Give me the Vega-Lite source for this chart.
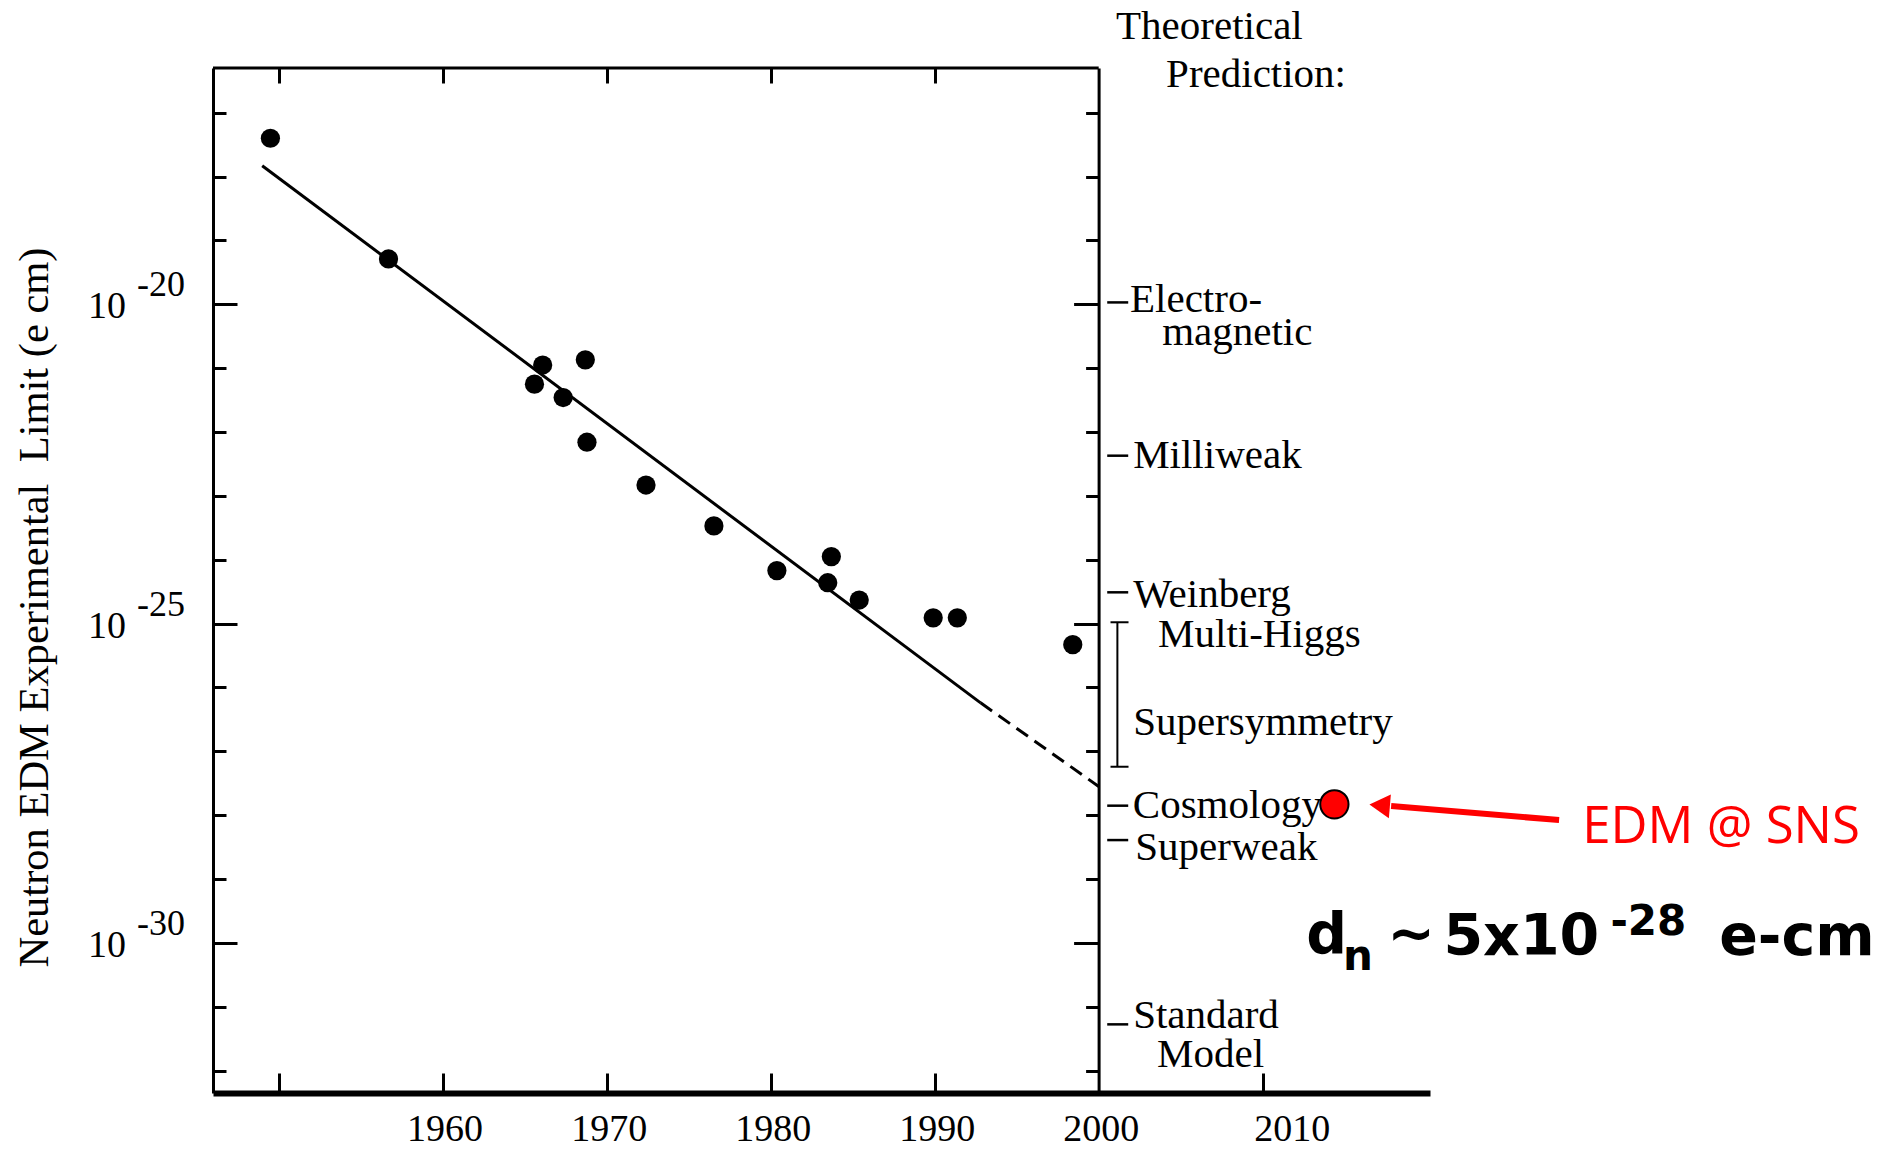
{
  "$schema": "https://vega.github.io/schema/vega-lite/v6.json",
  "width": 1217,
  "height": 1025,
  "autosize": {"type": "none"},
  "padding": {"left": 213, "top": 68, "right": 470, "bottom": 57},
  "background": "white",
  "config": {"view": {"stroke": null}, "text": {"font": "Liberation Serif", "color": "black"}},
  "datasets": {
    "edm": [
      {"year": 1949.5, "d": 3.98e-18},
      {"year": 1956.7, "d": 5.13e-20},
      {"year": 1966.1, "d": 1.12e-21},
      {"year": 1965.6, "d": 5.62e-22},
      {"year": 1968.7, "d": 1.35e-21},
      {"year": 1967.35, "d": 3.47e-22},
      {"year": 1968.8, "d": 6.92e-23},
      {"year": 1972.4, "d": 1.48e-23},
      {"year": 1976.54, "d": 3.39e-24},
      {"year": 1980.38, "d": 6.76e-25},
      {"year": 1983.7, "d": 1.12e-24},
      {"year": 1983.48, "d": 4.37e-25},
      {"year": 1985.4, "d": 2.34e-25},
      {"year": 1989.91, "d": 1.23e-25},
      {"year": 1991.38, "d": 1.23e-25},
      {"year": 1998.42, "d": 4.68e-26}
    ],
    "fit": [
      {"seg": "solid", "year": 1949.0, "d": 1.48e-18},
      {"seg": "solid", "year": 1992.8, "d": 5.75e-27},
      {"seg": "dashed", "year": 1992.8, "d": 5.75e-27},
      {"seg": "dashed", "year": 2000, "d": 2.82e-28}
    ],
    "decades": [
      {"d": 1e-20, "exp": "-20"},
      {"d": 1e-25, "exp": "-25"},
      {"d": 1e-30, "exp": "-30"}
    ],
    "theory_marks": [
      {"model": "Electromagnetic", "year": 2001.16, "d": 1.07e-20},
      {"model": "Milliweak", "year": 2001.16, "d": 4.26e-23},
      {"model": "Weinberg", "year": 2001.16, "d": 3.09e-25},
      {"model": "Cosmology", "year": 2001.16, "d": 1.41e-28},
      {"model": "Superweak", "year": 2001.16, "d": 4.08e-29},
      {"model": "Standard Model", "year": 2001.16, "d": 5.31e-32}
    ],
    "theory_text": [
      {"text": "Theoretical", "year": 2001.06, "d": 1.43e-16},
      {"text": "Prediction:", "year": 2004.11, "d": 2.55e-17},
      {"text": "Electro-", "year": 2001.91, "d": 7.66e-21},
      {"text": "magnetic", "year": 2003.87, "d": 2.30e-21},
      {"text": "Milliweak", "year": 2002.1, "d": 2.73e-23},
      {"text": "Weinberg", "year": 2002.1, "d": 1.84e-25},
      {"text": "Multi-Higgs", "year": 2003.62, "d": 4.35e-26},
      {"text": "Supersymmetry", "year": 2002.1, "d": 1.80e-27},
      {"text": "Cosmology", "year": 2002.08, "d": 8.93e-29},
      {"text": "Superweak", "year": 2002.23, "d": 1.99e-29},
      {"text": "Standard", "year": 2002.1, "d": 4.60e-32},
      {"text": "Model", "year": 2003.56, "d": 1.15e-32}
    ],
    "bracket": [{"year": 2001.14, "top": 1.05e-25, "bottom": 5.74e-28}],
    "bracket_caps": [{"year": 2001.27, "d": 1.05e-25}, {"year": 2001.27, "d": 5.74e-28}],
    "sns": [{"year": 2014.37, "d": 1.48e-28}],
    "arrow": [{"x1": 2017.83, "d1": 1.39e-28, "x2": 2028.07, "d2": 8.40e-29}],
    "arrowhead": [{"year": 2017.13, "d": 1.42e-28}],
    "label_sns": [{"text": "EDM @ SNS", "year": 2029.48, "d": 3.62e-29}],
    "formula": [
      {"t": "d", "part": "main", "year": 2012.65, "d": 6.87e-31},
      {"t": "n", "part": "script", "year": 2014.9, "d": 3.76e-31},
      {"t": "~", "part": "main", "year": 2017.6, "d": 6.92e-31},
      {"t": "5x10", "part": "main", "year": 2021.02, "d": 6.46e-31},
      {"t": "-28", "part": "script", "year": 2031.2, "d": 1.33e-30},
      {"t": "e-cm", "part": "main", "year": 2037.83, "d": 6.46e-31}
    ],
    "topframe": [{"x1": 1946, "x2": 2000, "d": 5.01e-17}]
  },
  "layer": [
    {
      "data": {"name": "edm"},
      "mark": {"type": "circle", "size": 370, "color": "black", "opacity": 1},
      "encoding": {
        "x": {
          "field": "year", "type": "quantitative",
          "scale": {"domain": [1946, 2020.2], "nice": false, "zero": false},
          "axis": {
            "orient": "bottom", "values": [1950, 1960, 1970, 1980, 1990, 2000, 2010],
            "format": "d", "title": null, "grid": false,
            "domainColor": "black", "domainWidth": 6,
            "tickColor": "black", "tickWidth": 3, "tickSize": -20,
            "tickOpacity": {"condition": {"test": "datum.value == 2000", "value": 0}, "value": 1},
            "labelExpr": "datum.value == 1950 ? '' : datum.label",
            "labelFont": "Liberation Serif", "labelFontSize": 38, "labelColor": "black",
            "labelBaseline": "alphabetic", "labelPadding": 67,
            "labelOffset": {"condition": {"test": "datum.value == 2010", "value": 29}, "value": 2},
            "labelFlush": false, "labelOverlap": false
          }
        },
        "y": {
          "field": "d", "type": "quantitative",
          "scale": {"type": "log", "domain": [4.47e-33, 5.01e-17], "nice": false},
          "axis": {
            "orient": "left",
            "values": [1e-17, 1e-18, 1e-19, 1e-20, 1e-21, 1e-22, 1e-23, 1e-24, 1e-25, 1e-26, 1e-27, 1e-28, 1e-29, 1e-30, 1e-31, 1e-32],
            "labels": false, "grid": false,
            "domainColor": "black", "domainWidth": 3,
            "tickColor": "black", "tickWidth": 3,
            "tickSize": {"condition": {"test": "datum.value == 1e-20 || datum.value == 1e-25 || datum.value == 1e-30", "value": -24}, "value": -13},
            "title": "Neutron EDM Experimental\u00a0 Limit (e cm)",
            "titleFont": "Liberation Serif", "titleFontSize": 42.5, "titleFontWeight": "normal", "titleColor": "black",
            "titleX": -179, "titleY": 539, "titleAngle": 270, "titleAlign": "center", "titleBaseline": "middle"
          }
        }
      }
    },
    {
      "data": {"name": "fit"},
      "transform": [{"filter": "datum.seg == 'solid'"}],
      "mark": {"type": "line", "color": "black", "strokeWidth": 3},
      "encoding": {
        "x": {
          "field": "year", "type": "quantitative",
          "axis": {
            "orient": "top", "values": [1950, 1960, 1970, 1980, 1990],
            "labels": false, "domain": false, "title": null, "grid": false,
            "tickColor": "black", "tickWidth": 3, "tickSize": -15
          }
        },
        "y": {
          "field": "d", "type": "quantitative",
          "axis": {
            "orient": "right", "offset": -331.4,
            "values": [1e-17, 1e-18, 1e-19, 1e-20, 1e-21, 1e-22, 1e-23, 1e-24, 1e-25, 1e-26, 1e-27, 1e-28, 1e-29, 1e-30, 1e-31, 1e-32],
            "labels": false, "title": null, "grid": false,
            "domainColor": "black", "domainWidth": 3,
            "tickColor": "black", "tickWidth": 3,
            "tickSize": {"condition": {"test": "datum.value == 1e-20 || datum.value == 1e-25 || datum.value == 1e-30", "value": -25}, "value": -13}
          }
        }
      }
    },
    {
      "data": {"name": "fit"},
      "transform": [{"filter": "datum.seg == 'dashed'"}],
      "mark": {"type": "line", "color": "black", "strokeWidth": 3, "strokeDash": [14, 8]},
      "encoding": {
        "x": {"field": "year", "type": "quantitative", "axis": null},
        "y": {"field": "d", "type": "quantitative", "axis": null}
      }
    },
    {
      "data": {"name": "topframe"},
      "mark": {"type": "rule", "color": "black", "strokeWidth": 3},
      "encoding": {
        "x": {"field": "x1", "type": "quantitative", "axis": null},
        "x2": {"field": "x2"},
        "y": {"field": "d", "type": "quantitative", "axis": null}
      }
    },
    {
      "data": {"name": "decades"},
      "mark": {"type": "text", "align": "right", "baseline": "alphabetic", "dx": -87, "dy": 14, "fontSize": 38, "font": "Liberation Serif", "color": "black"},
      "encoding": {
        "x": {"datum": 1946, "type": "quantitative", "axis": null},
        "y": {"field": "d", "type": "quantitative", "axis": null},
        "text": {"value": "10"}
      }
    },
    {
      "data": {"name": "decades"},
      "mark": {"type": "text", "align": "left", "baseline": "alphabetic", "dx": -76, "dy": -8, "fontSize": 36, "font": "Liberation Serif", "color": "black"},
      "encoding": {
        "x": {"datum": 1946, "type": "quantitative", "axis": null},
        "y": {"field": "d", "type": "quantitative", "axis": null},
        "text": {"field": "exp"}
      }
    },
    {
      "data": {"name": "theory_marks"},
      "mark": {"type": "tick", "orient": "horizontal", "size": 21, "thickness": 2.5, "color": "black", "opacity": 1},
      "encoding": {
        "x": {"field": "year", "type": "quantitative", "axis": null},
        "y": {"field": "d", "type": "quantitative", "axis": null}
      }
    },
    {
      "data": {"name": "bracket"},
      "mark": {"type": "rule", "color": "black", "strokeWidth": 2},
      "encoding": {
        "x": {"field": "year", "type": "quantitative", "axis": null},
        "y": {"field": "top", "type": "quantitative", "axis": null},
        "y2": {"field": "bottom"}
      }
    },
    {
      "data": {"name": "bracket_caps"},
      "mark": {"type": "tick", "orient": "horizontal", "size": 18, "thickness": 2, "color": "black", "opacity": 1},
      "encoding": {
        "x": {"field": "year", "type": "quantitative", "axis": null},
        "y": {"field": "d", "type": "quantitative", "axis": null}
      }
    },
    {
      "data": {"name": "theory_text"},
      "mark": {"type": "text", "align": "left", "baseline": "alphabetic", "fontSize": 41, "font": "Liberation Serif", "color": "black"},
      "encoding": {
        "x": {"field": "year", "type": "quantitative", "axis": null},
        "y": {"field": "d", "type": "quantitative", "axis": null},
        "text": {"field": "text"}
      }
    },
    {
      "data": {"name": "arrow"},
      "mark": {"type": "rule", "color": "#ff0000", "strokeWidth": 6},
      "encoding": {
        "x": {"field": "x1", "type": "quantitative", "axis": null},
        "y": {"field": "d1", "type": "quantitative", "axis": null},
        "x2": {"field": "x2"},
        "y2": {"field": "d2"}
      }
    },
    {
      "data": {"name": "arrowhead"},
      "mark": {"type": "point", "shape": "triangle-left", "size": 560, "filled": true, "color": "#ff0000", "opacity": 1, "angle": 4.8},
      "encoding": {
        "x": {"field": "year", "type": "quantitative", "axis": null},
        "y": {"field": "d", "type": "quantitative", "axis": null}
      }
    },
    {
      "data": {"name": "sns"},
      "mark": {"type": "point", "shape": "circle", "size": 800, "filled": true, "fill": "#ff0000", "stroke": "black", "strokeWidth": 2, "opacity": 1},
      "encoding": {
        "x": {"field": "year", "type": "quantitative", "axis": null},
        "y": {"field": "d", "type": "quantitative", "axis": null}
      }
    },
    {
      "data": {"name": "label_sns"},
      "mark": {"type": "text", "align": "left", "baseline": "alphabetic", "fontSize": 51, "font": "Open Sans", "color": "#ff0000"},
      "encoding": {
        "x": {"field": "year", "type": "quantitative", "axis": null},
        "y": {"field": "d", "type": "quantitative", "axis": null},
        "text": {"field": "text"}
      }
    },
    {
      "data": {"name": "formula"},
      "transform": [{"filter": "datum.part == 'main'"}],
      "mark": {"type": "text", "align": "left", "baseline": "alphabetic", "fontSize": 57, "fontWeight": "bold", "font": "DejaVu Sans", "color": "black"},
      "encoding": {
        "x": {"field": "year", "type": "quantitative", "axis": null},
        "y": {"field": "d", "type": "quantitative", "axis": null},
        "text": {"field": "t"}
      }
    },
    {
      "data": {"name": "formula"},
      "transform": [{"filter": "datum.part == 'script'"}],
      "mark": {"type": "text", "align": "left", "baseline": "alphabetic", "fontSize": 42, "fontWeight": "bold", "font": "DejaVu Sans", "color": "black"},
      "encoding": {
        "x": {"field": "year", "type": "quantitative", "axis": null},
        "y": {"field": "d", "type": "quantitative", "axis": null},
        "text": {"field": "t"}
      }
    }
  ],
  "resolve": {"axis": {"x": "independent", "y": "independent"}}
}
